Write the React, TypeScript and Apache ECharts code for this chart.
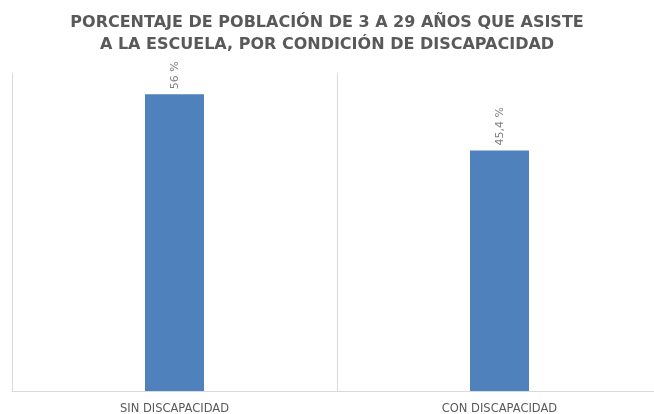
import React, { useEffect, useRef } from "react";
import * as echarts from "echarts";

const titleText = "PORCENTAJE DE POBLACIÓN DE 3 A 29 AÑOS QUE ASISTE\nA LA ESCUELA, POR CONDICIÓN DE DISCAPACIDAD";
const categories = ["SIN DISCAPACIDAD", "CON DISCAPACIDAD"];
const values = [56, 45.4];

export default function App() {
  const ref = useRef<HTMLDivElement>(null);
  useEffect(() => {
    if (!ref.current) return;
    const chart = echarts.init(ref.current, undefined, { renderer: "svg" });
    chart.setOption({
      animation: false,
      title: {
        text: titleText,
        left: "center",
        top: 5,
        textStyle: {
          fontFamily: "DejaVu Sans",
          fontWeight: "bold",
          fontSize: 16,
          color: "#595959",
          lineHeight: 22,
        },
      },
      grid: {
        left: 12,
        right: -8,
        top: 73,
        bottom: 23,
        containLabel: false,
        outerBoundsMode: "none",
      },
      xAxis: {
        type: "category",
        data: categories,
        axisLine: { lineStyle: { color: "#d9d9d9", width: 1 } },
        axisTick: { show: false },
        splitLine: { show: true, lineStyle: { color: "#d9d9d9", width: 1 } },
        axisLabel: {
          fontFamily: "DejaVu Sans",
          fontSize: 11.5,
          color: "#595959",
          margin: 11,
        },
      },
      yAxis: {
        type: "value",
        min: 0,
        max: 60,
        show: false,
        splitLine: { show: false },
      },
      series: [
        {
          type: "bar",
          data: values,
          barWidth: 59,
          itemStyle: { color: "#4f81bd" },
          label: {
            show: true,
            position: "top",
            rotate: 90,
            align: "left",
            verticalAlign: "middle",
            distance: 5,
            fontFamily: "DejaVu Sans",
            fontSize: 11,
            color: "#7f7f7f",
            formatter: (p: any) => String(p.value).replace(".", ",") + " %",
          },
        },
      ],
    });
    return () => chart.dispose();
  }, []);
  return (
    <div
      ref={ref}
      style={{ position: "fixed", left: 0, top: 0, width: 654, height: 414 }}
    />
  );
}
